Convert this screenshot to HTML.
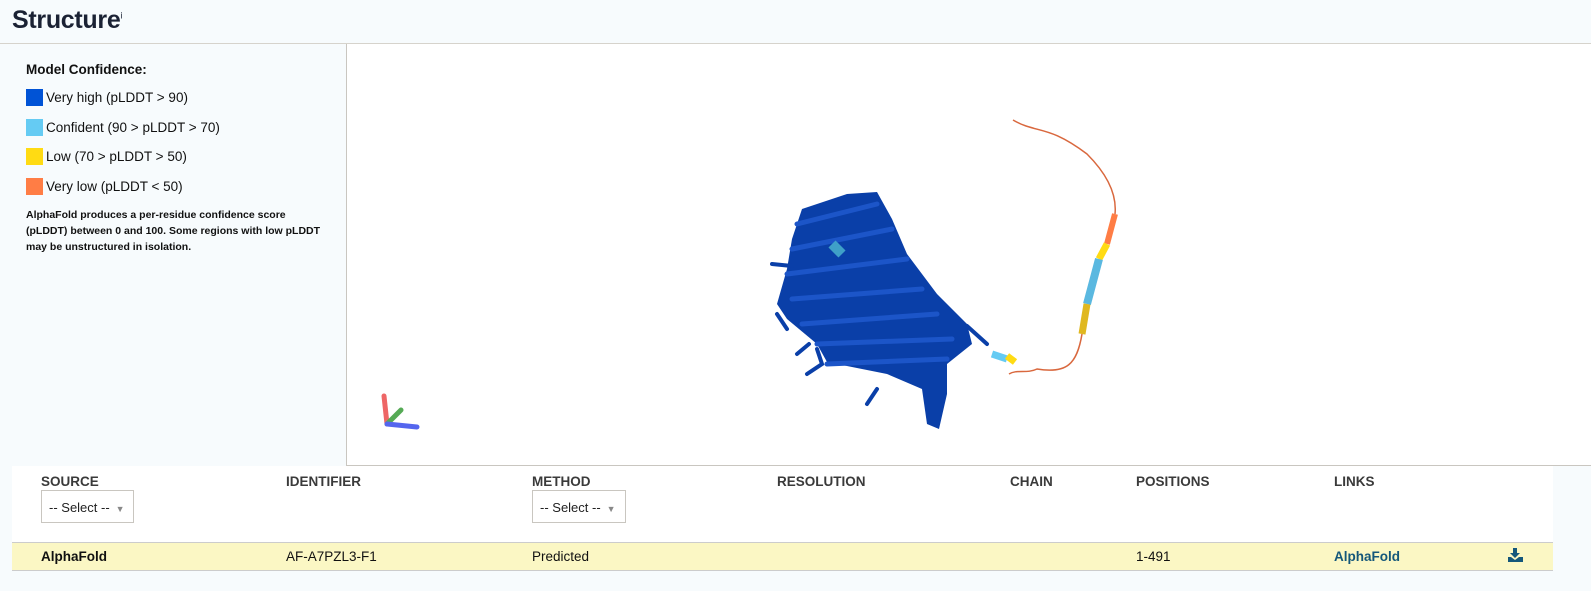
<!DOCTYPE html>
<html><head><meta charset="utf-8">
<style>
body{margin:0;width:1591px;height:591px;background:#f7fbfd;font-family:"Liberation Sans",sans-serif;color:#222;position:relative;overflow:hidden}
.abs{position:absolute}
h1{position:absolute;left:12px;top:6px;margin:0;font-size:25px;font-weight:bold;color:#1b2234;letter-spacing:-0.3px}
h1 sup{font-size:9px;font-weight:normal}
.hr{left:0;top:43px;width:1591px;height:1px;background:#d6d3cc}
.leg{left:26px;font-size:13.5px;color:#111}
.sw{display:inline-block;width:17px;height:17px;vertical-align:-4px;margin-right:3px}
.viewer{left:346px;top:44px;width:1245px;height:421px;background:#fff;border-left:1px solid #c9c6c0;border-bottom:1px solid #c9c6c0}
.tbl{left:12px;top:466px;width:1541px;height:104px;background:#fff}
.th{top:474px;font-size:13.5px;font-weight:bold;color:#3a3a3a}
.sel{top:490px;width:91px;height:33px;border:1px solid #c9c6c0;background:#fff;font-size:13px;line-height:33px;box-sizing:border-box;padding-left:7px;color:#222}
.sel span{color:#888;font-size:9px;margin-left:6px}
.row{left:12px;top:542px;width:1541px;height:27px;background:#fbf7c4;border-top:1px solid #ccc;border-bottom:1px solid #ccc}
.td{top:549px;font-size:13.5px;color:#111}
</style></head><body>
<h1>Structure<sup>i</sup></h1>
<div class="abs hr"></div>
<div class="abs leg" style="top:62px;font-weight:bold;font-size:13.5px">Model Confidence:</div>
<div class="abs leg" style="top:89px"><span class="sw" style="background:#0053d6"></span>Very high (pLDDT &gt; 90)</div>
<div class="abs leg" style="top:119px"><span class="sw" style="background:#65cbf3"></span>Confident (90 &gt; pLDDT &gt; 70)</div>
<div class="abs leg" style="top:148px"><span class="sw" style="background:#ffdb13"></span>Low (70 &gt; pLDDT &gt; 50)</div>
<div class="abs leg" style="top:178px"><span class="sw" style="background:#ff7d45"></span>Very low (pLDDT &lt; 50)</div>
<div class="abs leg" style="top:207px;font-size:10.5px;font-weight:bold;line-height:16px;width:300px">AlphaFold produces a per-residue confidence score (pLDDT) between 0 and 100. Some regions with low pLDDT may be unstructured in isolation.</div>
<div class="abs viewer">
<svg width="1245" height="421">
<path d="M455 165 L500 150 L530 148 L545 175 L560 210 L590 250 L620 280 L625 300 L600 320 L600 350 L592 385 L580 380 L575 345 L540 330 L480 318 L470 300 L440 275 L430 260 L440 225 L445 195 Z" fill="#0a3fa8"/>
<g stroke="#1c55c8" stroke-width="5" fill="none" stroke-linecap="round">
<path d="M450 180 L530 160 M445 205 L545 185 M440 230 L560 215 M445 255 L575 245 M455 280 L590 270 M470 300 L605 295 M480 320 L600 315"/>
</g>
<g stroke="#0a3fa8" stroke-width="4" fill="none" stroke-linecap="round">
<path d="M425 220 L445 222 M430 270 L440 285 M460 330 L475 320 L470 305 M450 310 L462 300 M620 282 L640 300 M530 345 L520 360"/>
</g>
<path d="M485 200 L495 210" stroke="#3fa0c8" stroke-width="10"/>
<path d="M645 310 L660 315" stroke="#65cbf3" stroke-width="7"/>
<path d="M660 312 L668 318" stroke="#ffdb13" stroke-width="7"/>
<path d="M666 76 C690 90 700 80 740 110 C760 130 770 150 768 170" stroke="#d9683e" stroke-width="1.5" fill="none"/>
<path d="M768 170 L760 200" stroke="#ff7d45" stroke-width="6"/>
<path d="M760 200 L752 215" stroke="#ffdb13" stroke-width="7"/>
<path d="M752 215 L740 260" stroke="#5ab8e0" stroke-width="8"/>
<path d="M740 260 L735 290" stroke="#e0b820" stroke-width="7"/>
<path d="M735 290 C730 320 720 330 690 325 C680 330 670 325 662 330" stroke="#d9683e" stroke-width="1.5" fill="none"/>
<path d="M37 352 L40 380" stroke="#ee6666" stroke-width="5" stroke-linecap="round"/>
<path d="M40 380 L54 366" stroke="#55aa55" stroke-width="5" stroke-linecap="round"/>
<path d="M40 380 L70 383" stroke="#5566ee" stroke-width="5" stroke-linecap="round"/>
</svg></div>
<div class="abs tbl"></div>
<div class="abs th" style="left:41px">SOURCE</div>
<div class="abs th" style="left:286px">IDENTIFIER</div>
<div class="abs th" style="left:532px">METHOD</div>
<div class="abs th" style="left:777px">RESOLUTION</div>
<div class="abs th" style="left:1010px">CHAIN</div>
<div class="abs th" style="left:1136px">POSITIONS</div>
<div class="abs th" style="left:1334px">LINKS</div>
<div class="abs sel" style="left:41px;width:93px">-- Select --<span>▼</span></div>
<div class="abs sel" style="left:532px;width:94px">-- Select --<span>▼</span></div>
<div class="abs row"></div>
<div class="abs td" style="left:41px;font-weight:bold">AlphaFold</div>
<div class="abs td" style="left:286px">AF-A7PZL3-F1</div>
<div class="abs td" style="left:532px">Predicted</div>
<div class="abs td" style="left:1136px">1-491</div>
<div class="abs td" style="left:1334px;font-weight:bold;color:#14577a">AlphaFold</div>
<svg class="abs" style="left:1508px;top:548px" width="15" height="14"><path d="M5 0h4v5h3l-5 5-5-5h3z M0 9h3l4 3 4-3h4v5H0z" fill="#14577a"/></svg>
</body></html>
